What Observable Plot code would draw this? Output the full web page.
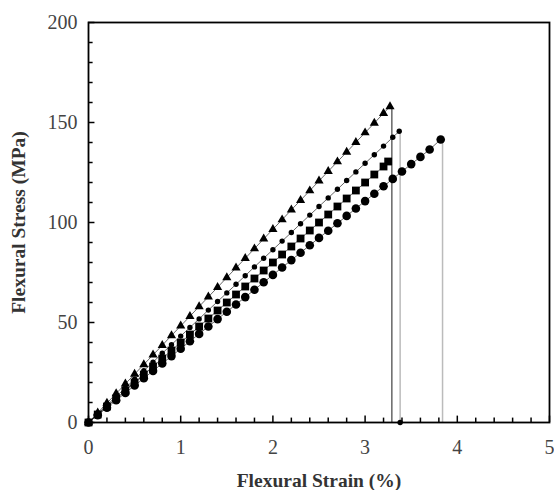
<!DOCTYPE html>
<html><head><meta charset="utf-8">
<script src="https://cdn.jsdelivr.net/npm/d3@7"></script>
<script src="https://cdn.jsdelivr.net/npm/@observablehq/plot@0.6"></script>
<style>body{margin:0;background:#fff}</style>
</head><body><div id="chart"></div>
<script>
// Strain (%) and stress (MPa) per specimen
const triX = [0,0.1,0.2,0.3,0.4,0.5,0.6,0.7,0.8,0.9,1.0,1.1,1.2,1.3,1.4,1.5,1.6,1.7,1.8,1.9,2.0,2.1,2.2,2.3,2.4,2.5,2.6,2.7,2.8,2.9,3.0,3.1,3.2,3.27];
const triY = [0,4.8,9.7,14.5,19.3,24.2,29.0,33.8,38.6,43.5,48.3,53.1,58.0,62.8,67.6,72.5,77.3,82.1,86.9,91.8,96.6,101.4,106.3,111.1,115.9,120.8,125.6,130.4,135.2,140.1,144.9,149.7,154.6,158.0];
const diaX = [0,0.1,0.2,0.3,0.4,0.5,0.6,0.7,0.8,0.9,1.0,1.1,1.2,1.3,1.4,1.5,1.6,1.7,1.8,1.9,2.0,2.1,2.2,2.3,2.4,2.5,2.6,2.7,2.8,2.9,3.0,3.1,3.2,3.3,3.37,3.38];
const diaY = [0,4.3,8.6,13.0,17.3,21.6,25.9,30.2,34.6,38.9,43.2,47.5,51.8,56.2,60.5,64.8,69.1,73.4,77.8,82.1,86.4,90.7,95.0,99.4,103.7,108.0,112.3,116.6,121.0,125.3,129.6,133.9,138.2,142.6,145.6,0];
const sqX = [0,0.1,0.2,0.3,0.4,0.5,0.6,0.7,0.8,0.9,1.0,1.1,1.2,1.3,1.4,1.5,1.6,1.7,1.8,1.9,2.0,2.1,2.2,2.3,2.4,2.5,2.6,2.7,2.8,2.9,3.0,3.1,3.2,3.25];
const sqY = [0,4,8,12,16,20,24,28,32,36,40,44,48,52,56,60,64,68,72,76,80,84,88,92,96,100,104,108,112,116,120,124,128,130.5];
const cirX = [0,0.1,0.2,0.3,0.4,0.5,0.6,0.7,0.8,0.9,1.0,1.1,1.2,1.3,1.4,1.5,1.6,1.7,1.8,1.9,2.0,2.1,2.2,2.3,2.4,2.5,2.6,2.7,2.8,2.9,3.0,3.1,3.2,3.3,3.4,3.5,3.6,3.7,3.82];
const cirY = [0,3.7,7.4,11.1,14.8,18.5,22.1,25.8,29.5,33.2,36.9,40.6,44.3,48.0,51.7,55.4,59.0,62.7,66.4,70.1,73.8,77.5,81.2,84.9,88.6,92.3,95.9,99.6,103.3,107.0,110.7,114.4,118.1,121.8,125.5,129.2,132.8,136.5,141.5];
// Fracture drop lines
const dropX = [3.29, 3.38, 3.84];
const dropTop = [158.0, 145.6, 141.5];
const dropColor = ["#666", "#bbb", "#bbb"];
const xTicks = [0,1,2,3,4,5];
const yTicks = [0,50,100,150,200];

const pts = (xs, ys) => xs.map((x,i)=>({x, y: ys[i]}));
const minorX = d3.range(0, 5.01, 0.2).map(v=>+v.toFixed(1));
const minorY = d3.range(0, 201, 10);
const drops = dropX.map((x,i)=>({x, top: dropTop[i], c: dropColor[i]}));

const serif = "'Liberation Serif', 'DejaVu Serif', serif";
const chart = Plot.plot({
  width: 554, height: 490,
  marginLeft: 88, marginRight: 5, marginTop: 22, marginBottom: 68,
  style: {fontFamily: serif, background: "#fff", overflow: "visible"},
  x: {domain: [0,5]}, y: {domain: [0,200]},
  marks: [
    Plot.ruleX(drops, {x: "x", y1: 0, y2: "top", stroke: "c", strokeWidth: 1.5}),
    Plot.line(pts(triX,triY), {x:"x", y:"y", stroke:"#000", strokeWidth:0.6}),
    Plot.line(pts(diaX.slice(0,-1),diaY.slice(0,-1)), {x:"x", y:"y", stroke:"#000", strokeWidth:0.6}),
    Plot.line(pts(sqX,sqY), {x:"x", y:"y", stroke:"#000", strokeWidth:0.6}),
    Plot.line(pts(cirX,cirY), {x:"x", y:"y", stroke:"#000", strokeWidth:0.6}),
    Plot.dot(pts(cirX,cirY), {x:"x", y:"y", r:4.3, fill:"#000", symbol:"circle"}),
    Plot.dot(pts(sqX,sqY), {x:"x", y:"y", r:4.4, fill:"#000", symbol:"square"}),
    Plot.dot(pts(diaX,diaY), {x:"x", y:"y", r:2.7, fill:"#000", symbol:"circle"}),
    Plot.dot(pts(triX,triY), {x:"x", y:"y", r:3.4, fill:"#000", symbol:"triangle"}),
    // inward ticks
    Plot.ruleX(minorX, {x: d=>d, y1: 0, y2: d => Math.abs(d - Math.round(d)) < 1e-6 ? 3.2 : 2.2, stroke:"#000", strokeWidth:1.5}),
    Plot.ruleY(minorY, {y: d=>d, x1: 0, x2: d => d % 50 === 0 ? 0.07 : 0.05, stroke:"#000", strokeWidth:1.5}),
    Plot.frame({stroke:"#000", strokeWidth:1.8}),
    Plot.axisX(xTicks, {tickSize: 0, tickPadding: 17, fontSize: 20, fill:"#444", label: null}),
    Plot.axisY(yTicks, {tickSize: 0, tickPadding: 11, fontSize: 20, fill:"#444", label: null}),
    Plot.text(["Flexural Strain (%)"], {frameAnchor:"bottom", dy: 64, fontSize: 19.5, fontWeight:"bold", fill:"#333"}),
    Plot.text(["Flexural Stress (MPa)"], {frameAnchor:"left", textAnchor:"middle", dx: -70, rotate: -90, fontSize: 19.5, fontWeight:"bold", fill:"#333"})
  ]
});
document.getElementById("chart").appendChild(chart);
</script></body></html>
